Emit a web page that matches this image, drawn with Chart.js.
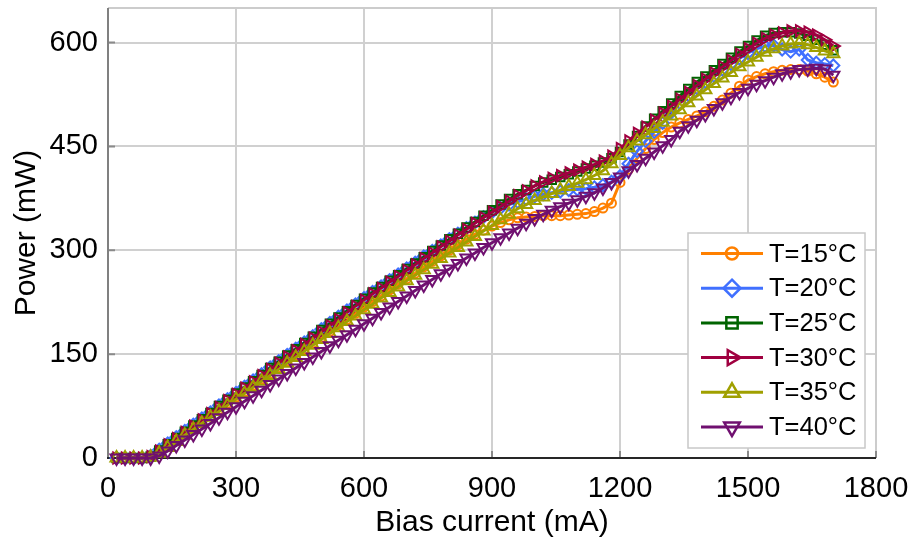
<!DOCTYPE html>
<html><head><meta charset="utf-8">
<script src="https://cdn.jsdelivr.net/npm/chart.js@4.4.1/dist/chart.umd.min.js"></script>
<style>html,body{margin:0;padding:0;background:#fff}#wrap{width:913px;height:539px;position:relative}canvas{display:block}</style>
</head><body><div id="wrap"><canvas id="c" width="913" height="539"></canvas></div>
<script>
const current = [20,40,60,80,100,120,140,160,180,200,220,240,260,280,300,320,340,360,380,400,420,440,460,480,500,520,540,560,580,600,620,640,660,680,700,720,740,760,780,800,820,840,860,880,900,920,940,960,980,1000,1020,1040,1060,1080,1100,1120,1140,1160,1180,1200,1220,1240,1260,1280,1300,1320,1340,1360,1380,1400,1420,1440,1460,1480,1500,1520,1540,1560,1580,1600,1620,1640,1660,1680,1700];
const p15 = [0,0,0,0,2, 9,18,27,35,44, 53,61,70,79,88, 96,105,114,122,131, 140,148,157,166,174, 183,192,200,209,218, 226,234,243,251,259, 267,276,284,292,300, 308,316,323,329,335, 340,344,347,348,349, 350,350,350,351,352, 353,356,361,368,398, 417,433,447,460,470, 478,484,489,494,500, 508,517,527,537,546, 551,555,558,560,561, 561,559,555,550,543];
const p20 = [0,0,0,0,3, 12,21,30,39,48, 57,66,76,85,94, 103,112,121,131,140, 149,158,167,176,186, 195,204,213,222,231, 240,248,257,265,274, 282,291,299,307,316, 324,332,340,348,355, 361,366,370,374,378, 381,383,385,387,388, 389,391,394,399,407, 425,443,458,471,484, 499,513,524,534,543, 552,561,569,577,585, 591,595,596,590,587, 590,575,571,569,567];
const p25 = [0,0,0,0,2, 11,20,29,38,47, 56,65,75,84,93, 102,111,120,130,139, 148,157,166,175,185, 194,203,212,221,230, 239,247,256,264,273, 281,290,299,307,316, 324,333,341,350,358, 366,374,381,387,393, 398,402,406,410,414, 418,422,427,433,442, 453,465,479,490,501, 512,523,533,543,551, 560,569,578,587,595, 603,610,614,615,615, 613,610,604,597,589];
const p30 = [0,0,0,0,2, 10,19,28,37,46, 55,64,73,83,92, 101,110,119,128,137, 146,155,164,173,182, 191,200,210,219,228, 237,245,254,262,271, 279,288,296,305,313, 322,330,339,347,355, 363,371,379,386,393, 399,404,408,412,416, 420,424,429,436,447, 458,469,478,488,498, 508,518,528,538,547, 556,565,574,583,591, 599,606,611,614,617, 617,615,611,604,595];
const p35 = [0,0,0,0,1, 7,15,24,33,41, 50,59,67,76,85, 93,102,111,119,128, 137,145,154,163,171, 180,188,197,205,214, 222,231,239,247,256, 264,272,280,288,296, 304,312,320,328,336, 344,352,360,366,372, 377,382,387,392,397, 402,408,415,425,437, 448,458,467,476,485, 494,503,513,523,532, 541,549,557,565,572, 579,586,591,595,598, 599,597,593,588,584];
const p40 = [0,0,0,0,0, 3,10,18,26,34, 42,50,58,66,74, 82,90,98,106,114, 122,130,138,146,154, 162,170,178,186,194, 202,210,218,226,234, 242,250,258,266,273, 281,289,296,304,311, 318,325,332,339,346, 352,358,363,368,373, 378,383,390,398,406, 415,424,433,442,451, 460,472,480,488,496, 505,513,521,528,534, 540,545,550,555,558, 561,562,563,562,553];
const seriesLabels = ['T=15°C','T=20°C','T=25°C','T=30°C','T=35°C','T=40°C'];
const xTicks = [0,300,600,900,1200,1500,1800];
const yTicks = [0,150,300,450,600];

const seriesValues = [p15,p20,p25,p30,p35,p40];
const colors = ['#ff8000','#4070ff','#006400','#a00040','#a0a000','#701070'];
const markers = [
  {style:'circle', rot:0, r:4.5, lr:6},
  {style:'rectRot', rot:0, r:6, lr:8.5},
  {style:'rect', rot:0, r:6, lr:8},
  {style:'triangle', rot:90, r:6.5, lr:8.5},
  {style:'triangle', rot:0, r:7, lr:9},
  {style:'triangle', rot:180, r:7, lr:9}
];
const FONT = "'Liberation Sans', Arial, sans-serif";

const datasets = seriesValues.map((vals, i) => ({
  label: seriesLabels[i],
  data: current.map((c, j) => ({x: c, y: vals[j]})),
  borderColor: colors[i],
  backgroundColor: 'rgba(0,0,0,0)',
  borderWidth: 3,
  pointStyle: markers[i].style,
  rotation: markers[i].rot,
  pointRadius: markers[i].r,
  pointBorderWidth: 2,
  pointBorderColor: colors[i],
  pointBackgroundColor: 'rgba(0,0,0,0)',
  tension: 0,
  clip: 10,
  order: 5 - i
}));

function drawMarker(ctx, style, rot, r, x, y) {
  ctx.save();
  ctx.translate(x, y);
  ctx.rotate(rot * Math.PI / 180);
  ctx.beginPath();
  if (style === 'circle') {
    ctx.arc(0, 0, r, 0, Math.PI * 2);
  } else if (style === 'rectRot') {
    ctx.moveTo(0, -r); ctx.lineTo(r, 0); ctx.lineTo(0, r); ctx.lineTo(-r, 0); ctx.closePath();
  } else if (style === 'rect') {
    const s = r * Math.SQRT1_2;
    ctx.rect(-s, -s, 2 * s, 2 * s);
  } else {
    for (let k = 0; k < 3; k++) {
      const a = k * 2 * Math.PI / 3;
      const px = Math.sin(a) * r, py = -Math.cos(a) * r;
      if (k === 0) ctx.moveTo(px, py); else ctx.lineTo(px, py);
    }
    ctx.closePath();
  }
  ctx.restore();
  ctx.stroke();
}

const framePlugin = {
  id: 'frame',
  beforeDatasetsDraw(chart) {
    const {ctx, chartArea: a} = chart;
    ctx.save();
    ctx.strokeStyle = '#cccccc';
    ctx.lineWidth = 2;
    ctx.beginPath();
    ctx.moveTo(a.left, a.top); ctx.lineTo(a.right, a.top); ctx.lineTo(a.right, a.bottom);
    ctx.stroke();
    ctx.strokeStyle = '#8a8a8a';
    ctx.lineWidth = 2;
    const xs = chart.scales.x, ys = chart.scales.y;
    ctx.beginPath();
    xTicks.forEach(v => { const px = xs.getPixelForValue(v); ctx.moveTo(px, a.bottom); ctx.lineTo(px, a.bottom - 7); });
    yTicks.forEach(v => { const py = ys.getPixelForValue(v); ctx.moveTo(a.left, py); ctx.lineTo(a.left + 7, py); });
    ctx.stroke();
    ctx.strokeStyle = '#808080';
    ctx.beginPath(); ctx.moveTo(a.left, a.top); ctx.lineTo(a.left, a.bottom); ctx.stroke();
    ctx.strokeStyle = '#262626';
    ctx.beginPath(); ctx.moveTo(a.left - 1, a.bottom); ctx.lineTo(a.right, a.bottom); ctx.stroke();
    ctx.restore();
  },
  afterDatasetsDraw(chart) {
    const {ctx} = chart;
    ctx.save();
    const bx = 688, by = 233, bw = 177, bh = 215;
    ctx.fillStyle = '#ffffff';
    ctx.fillRect(bx, by, bw, bh);
    ctx.strokeStyle = '#c8c8c8';
    ctx.lineWidth = 1.5;
    ctx.strokeRect(bx, by, bw, bh);
    ctx.font = '25.5px ' + FONT;
    ctx.textBaseline = 'middle';
    ctx.textAlign = 'left';
    seriesLabels.forEach((lab, i) => {
      const y = 253.5 + i * 34.7;
      ctx.strokeStyle = colors[i];
      ctx.lineWidth = 3;
      ctx.beginPath(); ctx.moveTo(701, y); ctx.lineTo(763, y); ctx.stroke();
      ctx.lineWidth = 2.5;
      drawMarker(ctx, markers[i].style, markers[i].rot, markers[i].lr, 732, y);
      ctx.fillStyle = '#000';
      ctx.fillText(lab, 769, y + 1);
    });
    ctx.restore();
  }
};

new Chart(document.getElementById('c'), {
  type: 'line',
  data: {datasets},
  plugins: [framePlugin],
  options: {
    responsive: false,
    animation: false,
    events: [],
    layout: {autoPadding: false, padding: {left: 0, right: 37, top: 8, bottom: 0}},
    plugins: {legend: {display: false}, tooltip: {enabled: false}},
    scales: {
      x: {
        type: 'linear', min: 0, max: 1800,
        afterBuildTicks: s => { s.ticks = xTicks.map(v => ({value: v})); },
        afterFit: s => { s.height = 81; s.paddingLeft = 0; s.paddingRight = 0; s.paddingTop = 0; s.paddingBottom = 0; },
        grid: {color: '#d0d0d0', lineWidth: 2, drawTicks: false},
        border: {display: false},
        ticks: {font: {family: FONT, size: 29}, color: '#000', padding: 14, maxRotation: 0, autoSkip: false, callback: v => String(v)},
        title: {display: true, text: 'Bias current (mA)', font: {family: FONT, size: 30, lineHeight: 1.1}, color: '#000', padding: {top: 0, bottom: 0}}
      },
      y: {
        type: 'linear', min: 0, max: 650,
        afterBuildTicks: s => { s.ticks = yTicks.map(v => ({value: v})); },
        afterFit: s => { s.width = 108; s.paddingTop = 0; s.paddingBottom = 0; s.paddingLeft = 0; s.paddingRight = 0; },
        grid: {color: '#d0d0d0', lineWidth: 2, drawTicks: false},
        border: {display: false},
        ticks: {font: {family: FONT, size: 29}, color: '#000', padding: 10, callback: v => String(v)},
        title: {display: true, text: 'Power (mW)', font: {family: FONT, size: 30}, color: '#000', padding: {top: 9, bottom: 0}}
      }
    }
  }
});
</script></body></html>
